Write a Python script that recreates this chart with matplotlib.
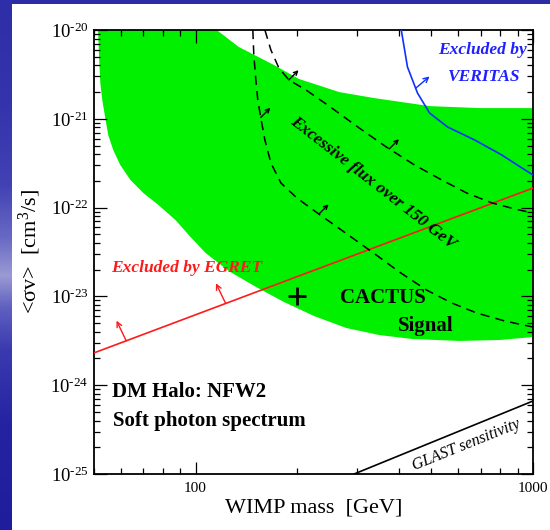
"""
CACTUS dark-matter signal region versus EGRET, VERITAS and GLAST limits.

Log-log plot of <sigma v> against WIMP mass, drawn in the ROOT-like style
of the original slide (ticks inside on all four sides, serif fonts).
"""

import matplotlib

matplotlib.use("Agg")
import matplotlib.pyplot as plt
import numpy as np
from matplotlib.patches import Rectangle
from matplotlib.ticker import FixedLocator, FuncFormatter, LogLocator, NullFormatter

plt.rcParams["font.family"] = ["Liberation Serif", "DejaVu Serif"]
plt.rcParams["mathtext.fontset"] = "custom"
plt.rcParams["mathtext.rm"] = "Liberation Serif"
plt.rcParams["mathtext.it"] = "Liberation Serif:italic"
plt.rcParams["mathtext.bf"] = "Liberation Serif:bold"
plt.rcParams["axes.unicode_minus"] = False

# axis decades
mass_ticks = [100, 1000]
sv_ticks = [1e-25, 1e-24, 1e-23, 1e-22, 1e-21, 1e-20]

# CACTUS signal band: upper and lower edges (mass in GeV, <sv> in cm^3/s)
band_upper_mass = [115.5, 134.3, 170.6, 202.5, 266.5, 338.6, 493.8, 695.6, 1000]
band_upper_sv = [1e-20, 6.44e-21, 4.04e-21, 2.81e-21, 2.0e-21, 1.71e-21,
                 1.39e-21, 1.32e-21, 1.32e-21]
band_lower_mass = [51.4, 51.8, 52.2, 52.9, 54.0, 55.1, 57.0, 59.8, 64.1, 70.0,
                   77.6, 87.2, 96.6, 107.1, 125.4, 150.9, 182.8, 224.5, 279.5,
                   350.4, 439.4, 606.0, 797.6, 1000]
band_lower_sv = [1e-20, 4.6e-21, 2.53e-21, 1.63e-21, 1.02e-21, 6.58e-22,
                 4.46e-22, 3.02e-22, 2.05e-22, 1.46e-22, 1.07e-22, 7.24e-23,
                 4.67e-23, 3.08e-23, 1.93e-23, 1.28e-23, 8.65e-24, 6.01e-24,
                 4.41e-24, 3.67e-24, 3.31e-24, 3.15e-24, 3.23e-24, 3.49e-24]

# EGRET exclusion line
egret_mass = [50, 1000]
egret_sv = [2.31e-24, 1.66e-22]

# VERITAS exclusion curve
veritas_mass = [407, 424.6, 454.7, 493.8, 558.3, 671.7, 808.6, 927.4, 1000]
veritas_sv = [1e-20, 3.83e-21, 1.95e-21, 1.16e-21, 8.09e-22, 5.77e-22,
              3.91e-22, 2.79e-22, 2.33e-22]

# GLAST sensitivity
glast_mass = [295, 1000]
glast_sv = [1.0e-25, 6.64e-25]

# "Excessive flux over 150 GeV" curves
flux_a_mass = [160.5, 167.2, 176.6, 189.2, 212.5, 248.8, 305.6, 367.7, 445.5,
               536.0, 636.2, 755.1, 884.0, 1000]
flux_a_sv = [1e-20, 5.95e-21, 3.73e-21, 2.73e-21, 2.11e-21, 1.39e-21,
             7.87e-22, 4.81e-22, 3.02e-22, 2.05e-22, 1.46e-22, 1.13e-22,
             9.64e-23, 8.69e-23]
flux_b_mass = [147.8, 148.8, 150.9, 152.9, 156.1, 160.5, 167.2, 179.1, 199.8,
               227.6, 275.7, 343.4, 402.0, 483.6, 574.1, 681.3, 825.2, 1000]
flux_b_sv = [1e-20, 5.23e-21, 2.73e-21, 1.63e-21, 1.02e-21, 5.77e-22,
             3.18e-22, 1.89e-22, 1.28e-22, 8.91e-23, 5.31e-23, 2.92e-23,
             1.88e-23, 1.18e-23, 8.43e-24, 6.50e-24, 5.28e-24, 4.52e-24]

# CACTUS best point
cactus_mass = 200
cactus_sv = 1e-23

# where the little "excluded side" arrows sit along each curve
egret_arrow_mass = [62.3, 122.8]
veritas_arrow_mass = [449.0]
flux_a_arrow_mass = [189.0, 375.0]
flux_b_arrow_mass = [156.0, 232.0]


def on_curve(mass, xs, ys):
    """log-log position on a curve at the given mass"""
    return 10 ** np.interp(np.log10(mass), np.log10(xs), np.log10(ys))


def side_arrows(ax, masses, xs, ys, offset, color, scale=7):
    for m in masses:
        ax.annotate(
            "",
            xy=(m, on_curve(m, xs, ys)),
            xytext=offset,
            textcoords="offset points",
            arrowprops=dict(arrowstyle="<-", color=color, lw=1.0,
                            shrinkA=0, shrinkB=0, mutation_scale=scale),
        )


def decade_label(v, _):
    # ROOT writes a short hyphen in the exponent
    return rf"$10^{{\text{{{int(round(np.log10(v)))}}}}}$"


fig = plt.figure(figsize=(5.5, 5.3), dpi=100, facecolor="white")

# slide border: blue gradient strip on the left, thin band on top
stops = [0.0, 0.2, 0.35, 0.45, 0.52, 0.58, 0.66, 0.8, 1.0]
reds = [46, 52, 66, 106, 154, 96, 58, 36, 30]
greens = [46, 52, 66, 106, 154, 96, 58, 36, 30]
blues = [168, 172, 180, 196, 212, 192, 176, 162, 156]
rows = np.linspace(1, 0, 530)  # figimage rows go bottom-up
strip = np.stack([np.interp(rows, stops, c) for c in (reds, greens, blues)], axis=-1)
strip = np.repeat((strip / 255.0)[:, None, :], 12, axis=1)
fig.figimage(strip, xo=0, yo=0, origin="lower", zorder=0)
fig.patches.append(Rectangle((0, 1 - 4 / 530), 1, 4 / 530, transform=fig.transFigure,
                             facecolor="#2c2ca6", edgecolor="none", zorder=0))

ax = fig.add_axes([94 / 550, 1 - 474 / 530, 439 / 550, 444 / 530])
ax.set_xscale("log")
ax.set_yscale("log")
ax.set_xlim(50, 1000)
ax.set_ylim(1e-25, 1e-20)

# green CACTUS band
poly_x = band_lower_mass + band_upper_mass[::-1]
poly_y = band_lower_sv + band_upper_sv[::-1]
ax.fill(poly_x, poly_y, color="#00f000", lw=0, zorder=1)

# exclusion / sensitivity lines
ax.plot(egret_mass, egret_sv, color="#ff1a1a", lw=1.2, zorder=3)
ax.plot(veritas_mass, veritas_sv, color="#1030ff", lw=1.2, zorder=3)
ax.plot(glast_mass, glast_sv, color="black", lw=1.2, zorder=3)
ax.plot(flux_a_mass, flux_a_sv, color="black", lw=1.1, ls=(0, (6, 4)), zorder=3)
ax.plot(flux_b_mass, flux_b_sv, color="black", lw=1.1, ls=(0, (6, 4)), zorder=3)
ax.plot(cactus_mass, cactus_sv, marker="+", color="black", ms=13, mew=2, zorder=4)

side_arrows(ax, egret_arrow_mass, egret_mass, egret_sv, (-7, 14.5), "#ff1a1a", 9)
side_arrows(ax, veritas_arrow_mass, veritas_mass, veritas_sv, (10, 8.5), "#1030ff", 9)
side_arrows(ax, flux_a_arrow_mass, flux_a_mass, flux_a_sv, (7, 7), "black")
side_arrows(ax, flux_b_arrow_mass, flux_b_mass, flux_b_sv, (7, 7), "black")

# labels inside the plot
ax.text(94, 2.09e-23, "Excluded by EGRET", color="#ff1a1a", fontsize=12.5,
        style="italic", weight="bold", ha="center", va="center")
ax.text(710, 5.96e-21, "Excluded by", color="#2020ff", fontsize=12.5,
        style="italic", weight="bold", ha="center", va="center")
ax.text(715, 2.96e-21, "VERITAS", color="#2020ff", fontsize=12.5,
        style="italic", weight="bold", ha="center", va="center")
ax.text(336.6, 1.89e-22, "Excessive flux over 150 GeV", fontsize=12.5,
        style="italic", weight="bold", ha="center", va="center",
        rotation=-38, rotation_mode="anchor")
ax.text(360, 9.6e-24, "CACTUS", fontsize=15, weight="bold",
        ha="center", va="center")
ax.text(480, 4.64e-24, "Signal", fontsize=15, weight="bold",
        ha="center", va="center")
ax.text(0.041, 0.185, "DM Halo: NFW2", fontsize=15, weight="bold",
        ha="left", va="center", transform=ax.transAxes)
ax.text(0.043, 0.119, "Soft photon spectrum", fontsize=15, weight="bold",
        ha="left", va="center", transform=ax.transAxes)
ax.text(636, 2.12e-25, "GLAST sensitivity", fontsize=11.5, style="italic",
        ha="center", va="center", rotation=22, rotation_mode="anchor")

# axes styling, ROOT-like
ax.set_xlabel("WIMP mass  [GeV]", fontsize=16, labelpad=2)
ax.set_ylabel("<σv>  [cm$^3$/s]", fontsize=16)
ax.yaxis.set_label_coords(-0.116, 0.5)
ax.xaxis.set_major_locator(FixedLocator(mass_ticks))
ax.xaxis.set_major_formatter(FuncFormatter(lambda v, _: f"{v:g}"))
ax.xaxis.set_minor_formatter(NullFormatter())
ax.yaxis.set_major_locator(FixedLocator(sv_ticks))
ax.yaxis.set_major_formatter(FuncFormatter(decade_label))
ax.yaxis.set_minor_locator(LogLocator(base=10, subs=np.arange(2, 10), numticks=10))
ax.yaxis.set_minor_formatter(NullFormatter())
ax.tick_params(which="both", direction="in", top=True, right=True, width=0.9)
ax.tick_params(which="major", length=9)
ax.tick_params(which="minor", length=4.5)
ax.tick_params(axis="x", which="major", labelsize=11, pad=6)
ax.tick_params(axis="y", which="major", labelsize=13.5, pad=4)
for s in ax.spines.values():
    s.set_linewidth(1.3)

fig.savefig("out.png", dpi=100)
